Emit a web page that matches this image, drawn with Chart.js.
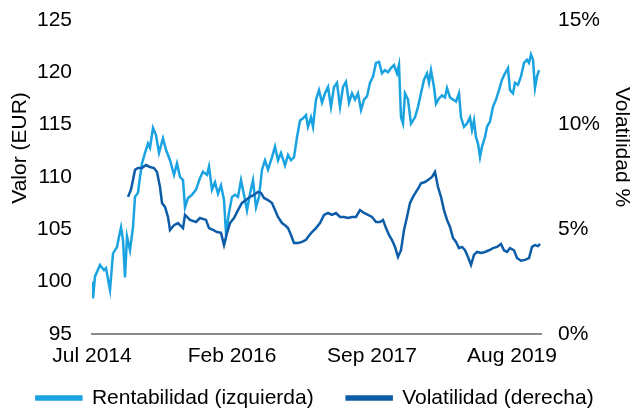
<!DOCTYPE html>
<html>
<head>
<meta charset="utf-8">
<script src="https://cdn.jsdelivr.net/npm/chart.js@4"></script>
<style>
html,body{margin:0;padding:0;background:#fff;}
#wrap{width:630px;height:410px;position:relative;}
</style>
</head>
<body>
<div id="wrap"><canvas id="c" width="630" height="410"></canvas></div>
<script>
// ---- Data (observation index, values) ----
const tickLabels = ['Jul 2014', 'Feb 2016', 'Sep 2017', 'Aug 2019'];
const tickObs = [0, 70, 140, 210];
const lastObs = 224.5;

const rentObs = [0,0.5,1.5,4,6,7,9,10.5,12.5,13.5,14.5,15.5,16.5,17.5,19,20.5,21.5,23,24,25,26.5,28,29,30.5,32,33.5,35.5,37,39,41,42.5,44,45.5,46.5,48,50,52,54,55.5,57.5,58.5,60,61.5,63,64.5,66,67,68.5,70,71.5,73,74.5,76,77.5,79,80.5,82,83.5,85,86.5,88,90,91.5,93,94.5,96.5,98,99.5,101,102.5,104,105.5,107,108,109.5,110.5,112,113.5,115,116.5,118,119.5,121,122.5,124,125.5,127,128.5,130,131.5,133,134.5,136,137.5,139,140.5,142,143.5,145,146.5,148,149.5,151,152.5,153.5,154.5,155.5,156.5,158,159.5,161.5,163,164.5,166,167.5,168.5,169.5,171,172,173.5,175,176.5,177.5,179,180.5,182,183.5,184.5,186,187.5,189,190,191,192,193,194,195,196.5,197.5,199,200.5,202,203.5,205,206.5,208,209,210.5,211.5,213,214.5,216,217.5,218.5,219.5,220.5,221.5,222.5,223.5];
const rentValues = [100.0,98.4,100.5,101.6,101.1,101.3,99.2,102.7,103.3,104.3,105.2,104.0,100.4,104.3,103.0,105.2,108.1,108.5,110.0,111.3,112.3,113.2,112.8,114.7,114.0,112.3,113.7,112.6,111.6,110.2,111.3,110.0,109.7,107.1,108.0,108.3,108.8,109.9,110.5,110.2,111.0,108.8,109.5,108.4,109.2,107.8,104.6,106.6,108.1,108.3,108.1,109.7,108.3,106.8,108.4,109.7,107.1,108.1,110.7,111.6,110.7,111.9,112.9,111.6,112.3,111.1,112.1,111.6,111.9,113.8,115.4,115.6,115.9,114.8,115.7,114.8,117.4,118.3,117.1,118.0,118.6,116.7,118.6,119.0,116.7,118.6,119.1,117.1,118.0,117.4,118.0,116.4,117.4,117.7,119.0,119.6,120.9,121.0,119.9,120.2,120.0,120.4,120.7,119.9,120.7,115.7,115.1,118.0,117.4,115.1,115.7,116.7,118.0,119.3,119.9,119.0,120.2,118.6,117.0,117.5,117.8,117.6,118.5,117.6,117.4,117.2,118.0,115.7,114.8,115.1,115.7,114.5,115.4,113.8,113.2,111.9,112.9,113.8,114.8,115.3,116.7,117.4,118.3,119.3,119.9,120.4,118.3,118.0,119.0,118.8,119.6,120.9,121.2,120.9,121.7,121.2,118.5,119.6,120.2];

const volObs = [18,19.5,20.5,21.5,23,25,27,29,31,32.5,34,35,36.5,38,39,41,43,45.5,46.5,49,52,54,57,58.5,60.5,62.5,64.5,66,67.5,69,71,73,75,77,79,81,83,84.5,86,88,90,91.5,93,95,96.5,98,99.5,101,103,105,107,108,110,112,114,116,118,120,122,124,126,128,130,132,134,136,138,140,142,144,145.5,147,148.5,150,151.5,153,154.5,156,157.5,159,160.5,162,163.5,164.5,166.5,168,170,171.5,173,174.5,176,177.5,179,180.5,182,183.5,185,186.5,188,189.5,191,192.5,194.5,196.5,198.5,200.5,202.5,204.5,206,207.5,209,211,212.5,214.5,216.5,218.5,220,221.5,223,224];
const volValues = [6.55,6.9,7.36,7.84,7.93,7.93,8.07,7.98,7.93,7.74,7.02,6.26,6.07,5.59,4.97,5.2,5.3,5.06,5.69,5.45,5.35,5.54,5.45,5.06,4.97,4.87,4.83,4.25,4.83,5.3,5.54,5.92,6.26,6.4,6.55,6.64,6.79,6.74,6.5,6.4,6.26,5.92,5.59,5.3,5.2,5.06,4.73,4.35,4.35,4.4,4.5,4.63,4.87,5.06,5.3,5.69,5.78,5.69,5.78,5.59,5.59,5.54,5.59,5.59,5.92,5.78,5.69,5.59,5.35,5.35,5.45,5.06,4.73,4.49,4.16,3.68,4.0,4.97,5.59,6.26,6.55,6.79,7.02,7.2,7.26,7.36,7.5,7.74,7.02,6.55,5.92,5.45,5.11,4.59,4.4,4.1,4.16,4.0,3.68,3.3,3.78,3.92,3.87,3.92,4.0,4.1,4.16,4.3,4.0,3.92,4.1,4.0,3.63,3.5,3.54,3.63,4.16,4.25,4.2,4.3];

const leftTicks = [95, 100, 105, 110, 115, 120, 125];
const rightTicks = [0, 5, 10, 15];

const seriesNames = ['Rentabilidad (izquierda)', 'Volatilidad (derecha)'];
const axisTitles = ['Valor (EUR)', 'Volatilidad %'];

const LIGHT = '#1AA3E0';
const DARK = '#0D5CA8';
const FONT = 'Liberation Sans, Arial, sans-serif';
const LEGEND_CENTER_Y = 398;

const toPoints = (xs, ys) => xs.map((x, i) => ({x: x, y: ys[i]}));

const titlePlugin = {
  id: 'sideTitles',
  afterLayout(chart) {
    // move legend row down to its place under the axis labels
    const lg = chart.legend;
    if (!lg) return;
    const pad = lg.options.labels.padding;
    lg.top = LEGEND_CENTER_Y - pad - 10.5;
    lg.bottom = chart.height;
    lg.height = lg.bottom - lg.top;
  },
  afterDraw(chart) {
    const ctx = chart.ctx;
    ctx.save();
    ctx.font = '21px ' + FONT;
    ctx.fillStyle = '#000';
    ctx.textAlign = 'center';
    ctx.textBaseline = 'alphabetic';
    const yl = chart.scales.y;
    ctx.save();
    ctx.translate(yl.left + 26, 148);
    ctx.rotate(-Math.PI / 2);
    ctx.fillText(axisTitles[0], 0, 0);
    ctx.restore();
    const yr = chart.scales.y1;
    ctx.save();
    ctx.translate(yr.right - 14, 147);
    ctx.rotate(Math.PI / 2);
    ctx.fillText(axisTitles[1], 0, 0);
    ctx.restore();
    ctx.restore();
  }
};

new Chart(document.getElementById('c'), {
  type: 'line',
  data: {
    datasets: [
      {
        label: seriesNames[0],
        data: toPoints(rentObs, rentValues),
        borderColor: LIGHT,
        backgroundColor: LIGHT,
        borderWidth: 2.5,
        pointRadius: 0,
        tension: 0,
        yAxisID: 'y',
        order: 1
      },
      {
        label: seriesNames[1],
        data: toPoints(volObs, volValues),
        borderColor: DARK,
        backgroundColor: DARK,
        borderWidth: 2.5,
        pointRadius: 0,
        tension: 0,
        yAxisID: 'y1',
        order: 0
      }
    ]
  },
  options: {
    responsive: false,
    animation: false,
    devicePixelRatio: 1,
    layout: { padding: { top: 20, left: 0, right: 0, bottom: 0 } },
    plugins: {
      tooltip: { enabled: false },
      legend: {
        position: 'bottom',
        maxHeight: 40,
        labels: {
          font: { family: FONT, size: 21 },
          color: '#000',
          boxWidth: 45,
          boxHeight: 3,
          padding: 33,
          sort: (a, b) => a.datasetIndex - b.datasetIndex
        }
      }
    },
    scales: {
      x: {
        type: 'linear',
        min: 0,
        max: lastObs,
        grid: { display: false, drawTicks: false },
        border: { display: true, color: '#8C8C8C', width: 2 },
        afterBuildTicks: (s) => { s.ticks = tickObs.map(v => ({value: v})); },
        afterFit: (s) => { s.height = 36; },
        ticks: {
          autoSkip: false,
          maxRotation: 0,
          padding: 10,
          color: '#000',
          font: { family: FONT, size: 21 },
          callback: (v) => { const i = tickObs.indexOf(v); return i >= 0 ? tickLabels[i] : ''; }
        }
      },
      y: {
        position: 'left',
        min: 95,
        max: 125,
        grid: { display: false, drawTicks: false },
        border: { display: false },
        afterBuildTicks: (s) => { s.ticks = leftTicks.map(v => ({value: v})); },
        afterFit: (s) => { s.width = 92; s.paddingTop = 0; s.paddingBottom = 0; },
        ticks: {
          padding: 20,
          color: '#000',
          font: { family: FONT, size: 21 }
        }
      },
      y1: {
        position: 'right',
        min: 0,
        max: 15,
        grid: { display: false, drawTicks: false },
        border: { display: false },
        afterBuildTicks: (s) => { s.ticks = rightTicks.map(v => ({value: v})); },
        afterFit: (s) => { s.width = 89; s.paddingTop = 0; s.paddingBottom = 0; },
        ticks: {
          padding: 17,
          color: '#000',
          font: { family: FONT, size: 21 },
          callback: (v) => v + '%'
        }
      }
    }
  },
  plugins: [titlePlugin]
});
</script>
</body>
</html>
